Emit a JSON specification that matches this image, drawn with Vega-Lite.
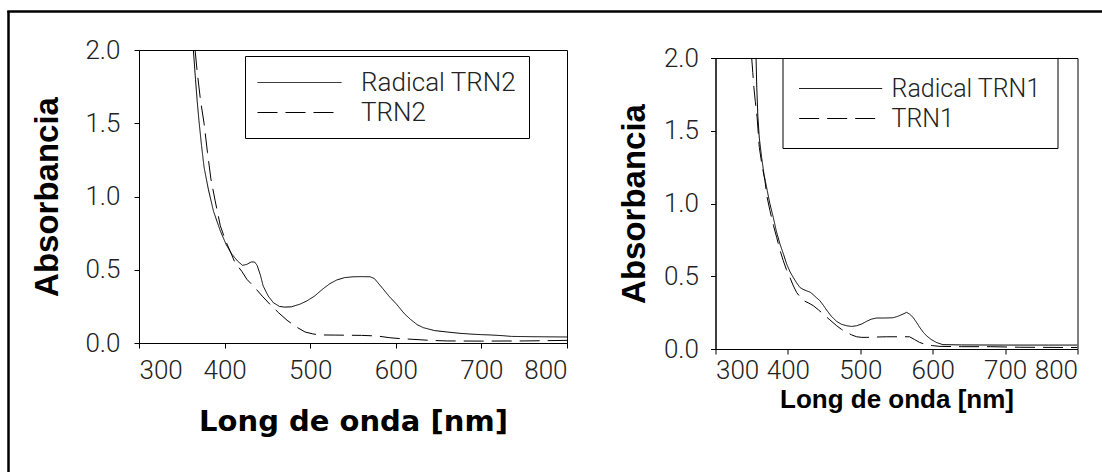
{
  "$schema": "https://vega.github.io/schema/vega-lite/v6.json",
  "background": "white",
  "padding": {"left": 5, "top": 8, "right": 0, "bottom": 0},
  "config": {
    "view": {"stroke": "black", "strokeWidth": 1},
    "axis": {"domainColor": "black", "tickColor": "black", "grid": false, "labelFont": "Roboto", "labelFontWeight": 300, "labelFontSize": 26, "labelColor": "#222", "tickSize": 5, "titleColor": "black"},
    "legend": {"title": null, "orient": "none", "strokeColor": "black", "fillColor": "white", "symbolType": "M -1 0 L 5 0", "symbolStrokeWidth": 1, "symbolStrokeColor": "black", "labelFont": "Roboto", "labelFontWeight": 300, "labelColor": "#222"}
  },
  "resolve": {"scale": {"strokeDash": "independent"}, "legend": {"strokeDash": "independent"}},
  "datasets": {
    "trn2": [
      {"wl": 363.5, "abs": 2.0, "serie": "Radical TRN2"}, {"wl": 366, "abs": 1.8, "serie": "Radical TRN2"}, {"wl": 368, "abs": 1.65, "serie": "Radical TRN2"}, {"wl": 370, "abs": 1.52, "serie": "Radical TRN2"}, {"wl": 373, "abs": 1.35, "serie": "Radical TRN2"}, {"wl": 376, "abs": 1.2, "serie": "Radical TRN2"}, {"wl": 381, "abs": 1.05, "serie": "Radical TRN2"}, {"wl": 387, "abs": 0.9, "serie": "Radical TRN2"}, {"wl": 395, "abs": 0.765, "serie": "Radical TRN2"}, {"wl": 402, "abs": 0.67, "serie": "Radical TRN2"}, {"wl": 408, "abs": 0.61, "serie": "Radical TRN2"}, {"wl": 415, "abs": 0.56, "serie": "Radical TRN2"}, {"wl": 421, "abs": 0.53, "serie": "Radical TRN2"}, {"wl": 426, "abs": 0.537, "serie": "Radical TRN2"}, {"wl": 431, "abs": 0.553, "serie": "Radical TRN2"}, {"wl": 435, "abs": 0.553, "serie": "Radical TRN2"}, {"wl": 438, "abs": 0.53, "serie": "Radical TRN2"}, {"wl": 442, "abs": 0.46, "serie": "Radical TRN2"}, {"wl": 445, "abs": 0.39, "serie": "Radical TRN2"}, {"wl": 451, "abs": 0.32, "serie": "Radical TRN2"}, {"wl": 457, "abs": 0.275, "serie": "Radical TRN2"}, {"wl": 464, "abs": 0.25, "serie": "Radical TRN2"}, {"wl": 470, "abs": 0.245, "serie": "Radical TRN2"}, {"wl": 478, "abs": 0.247, "serie": "Radical TRN2"}, {"wl": 488, "abs": 0.265, "serie": "Radical TRN2"}, {"wl": 496, "abs": 0.287, "serie": "Radical TRN2"}, {"wl": 505, "abs": 0.32, "serie": "Radical TRN2"}, {"wl": 515, "abs": 0.37, "serie": "Radical TRN2"}, {"wl": 523, "abs": 0.405, "serie": "Radical TRN2"}, {"wl": 531, "abs": 0.43, "serie": "Radical TRN2"}, {"wl": 540, "abs": 0.446, "serie": "Radical TRN2"}, {"wl": 550, "abs": 0.452, "serie": "Radical TRN2"}, {"wl": 560, "abs": 0.453, "serie": "Radical TRN2"}, {"wl": 570, "abs": 0.452, "serie": "Radical TRN2"}, {"wl": 575, "abs": 0.44, "serie": "Radical TRN2"}, {"wl": 585, "abs": 0.37, "serie": "Radical TRN2"}, {"wl": 592, "abs": 0.32, "serie": "Radical TRN2"}, {"wl": 601, "abs": 0.264, "serie": "Radical TRN2"}, {"wl": 610, "abs": 0.2, "serie": "Radical TRN2"}, {"wl": 617, "abs": 0.162, "serie": "Radical TRN2"}, {"wl": 625, "abs": 0.125, "serie": "Radical TRN2"}, {"wl": 632, "abs": 0.105, "serie": "Radical TRN2"}, {"wl": 645, "abs": 0.085, "serie": "Radical TRN2"}, {"wl": 660, "abs": 0.075, "serie": "Radical TRN2"}, {"wl": 675, "abs": 0.066, "serie": "Radical TRN2"}, {"wl": 690, "abs": 0.06, "serie": "Radical TRN2"}, {"wl": 700, "abs": 0.057, "serie": "Radical TRN2"}, {"wl": 710, "abs": 0.055, "serie": "Radical TRN2"}, {"wl": 725, "abs": 0.05, "serie": "Radical TRN2"}, {"wl": 735, "abs": 0.045, "serie": "Radical TRN2"}, {"wl": 760, "abs": 0.043, "serie": "Radical TRN2"}, {"wl": 780, "abs": 0.042, "serie": "Radical TRN2"}, {"wl": 800, "abs": 0.041, "serie": "Radical TRN2"},
      {"wl": 365.5, "abs": 2.0, "serie": "TRN2"}, {"wl": 368, "abs": 1.85, "serie": "TRN2"}, {"wl": 372, "abs": 1.65, "serie": "TRN2"}, {"wl": 376, "abs": 1.5, "serie": "TRN2"}, {"wl": 380, "abs": 1.3, "serie": "TRN2"}, {"wl": 384, "abs": 1.12, "serie": "TRN2"}, {"wl": 389, "abs": 0.97, "serie": "TRN2"}, {"wl": 395, "abs": 0.8, "serie": "TRN2"}, {"wl": 401, "abs": 0.7, "serie": "TRN2"}, {"wl": 407, "abs": 0.62, "serie": "TRN2"}, {"wl": 412, "abs": 0.55, "serie": "TRN2"}, {"wl": 420, "abs": 0.49, "serie": "TRN2"}, {"wl": 426, "abs": 0.435, "serie": "TRN2"}, {"wl": 435, "abs": 0.38, "serie": "TRN2"}, {"wl": 444, "abs": 0.32, "serie": "TRN2"}, {"wl": 453, "abs": 0.264, "serie": "TRN2"}, {"wl": 463, "abs": 0.207, "serie": "TRN2"}, {"wl": 473, "abs": 0.155, "serie": "TRN2"}, {"wl": 484, "abs": 0.109, "serie": "TRN2"}, {"wl": 494, "abs": 0.075, "serie": "TRN2"}, {"wl": 503, "abs": 0.062, "serie": "TRN2"}, {"wl": 512, "abs": 0.055, "serie": "TRN2"}, {"wl": 530, "abs": 0.054, "serie": "TRN2"}, {"wl": 560, "abs": 0.052, "serie": "TRN2"}, {"wl": 578, "abs": 0.048, "serie": "TRN2"}, {"wl": 593, "abs": 0.036, "serie": "TRN2"}, {"wl": 605, "abs": 0.03, "serie": "TRN2"}, {"wl": 620, "abs": 0.025, "serie": "TRN2"}, {"wl": 640, "abs": 0.018, "serie": "TRN2"}, {"wl": 660, "abs": 0.014, "serie": "TRN2"}, {"wl": 700, "abs": 0.013, "serie": "TRN2"}, {"wl": 750, "abs": 0.014, "serie": "TRN2"}, {"wl": 800, "abs": 0.018, "serie": "TRN2"}
    ],
    "trn1": [
      {"wl": 356, "abs": 2.0, "serie": "Radical TRN1"}, {"wl": 357, "abs": 1.8, "serie": "Radical TRN1"}, {"wl": 358.5, "abs": 1.6, "serie": "Radical TRN1"}, {"wl": 360.5, "abs": 1.45, "serie": "Radical TRN1"}, {"wl": 363.7, "abs": 1.317, "serie": "Radical TRN1"}, {"wl": 367, "abs": 1.2, "serie": "Radical TRN1"}, {"wl": 371.5, "abs": 1.088, "serie": "Radical TRN1"}, {"wl": 375, "abs": 1.0, "serie": "Radical TRN1"}, {"wl": 379.8, "abs": 0.905, "serie": "Radical TRN1"}, {"wl": 384, "abs": 0.81, "serie": "Radical TRN1"}, {"wl": 389, "abs": 0.722, "serie": "Radical TRN1"}, {"wl": 394, "abs": 0.65, "serie": "Radical TRN1"}, {"wl": 398.3, "abs": 0.584, "serie": "Radical TRN1"}, {"wl": 403, "abs": 0.53, "serie": "Radical TRN1"}, {"wl": 407.4, "abs": 0.492, "serie": "Radical TRN1"}, {"wl": 412, "abs": 0.455, "serie": "Radical TRN1"}, {"wl": 416.6, "abs": 0.423, "serie": "Radical TRN1"}, {"wl": 421, "abs": 0.41, "serie": "Radical TRN1"}, {"wl": 425.8, "abs": 0.4, "serie": "Radical TRN1"}, {"wl": 431, "abs": 0.39, "serie": "Radical TRN1"}, {"wl": 435, "abs": 0.373, "serie": "Radical TRN1"}, {"wl": 440, "abs": 0.35, "serie": "Radical TRN1"}, {"wl": 444.2, "abs": 0.332, "serie": "Radical TRN1"}, {"wl": 449, "abs": 0.3, "serie": "Radical TRN1"}, {"wl": 453.4, "abs": 0.268, "serie": "Radical TRN1"}, {"wl": 460, "abs": 0.225, "serie": "Radical TRN1"}, {"wl": 467.3, "abs": 0.19, "serie": "Radical TRN1"}, {"wl": 474, "abs": 0.17, "serie": "Radical TRN1"}, {"wl": 481, "abs": 0.16, "serie": "Radical TRN1"}, {"wl": 488, "abs": 0.155, "serie": "Radical TRN1"}, {"wl": 495, "abs": 0.16, "serie": "Radical TRN1"}, {"wl": 502, "abs": 0.172, "serie": "Radical TRN1"}, {"wl": 508.7, "abs": 0.19, "serie": "Radical TRN1"}, {"wl": 515, "abs": 0.205, "serie": "Radical TRN1"}, {"wl": 522.5, "abs": 0.213, "serie": "Radical TRN1"}, {"wl": 535, "abs": 0.213, "serie": "Radical TRN1"}, {"wl": 545.4, "abs": 0.215, "serie": "Radical TRN1"}, {"wl": 552, "abs": 0.225, "serie": "Radical TRN1"}, {"wl": 559, "abs": 0.24, "serie": "Radical TRN1"}, {"wl": 564, "abs": 0.252, "serie": "Radical TRN1"}, {"wl": 568, "abs": 0.24, "serie": "Radical TRN1"}, {"wl": 573, "abs": 0.217, "serie": "Radical TRN1"}, {"wl": 578, "abs": 0.18, "serie": "Radical TRN1"}, {"wl": 582, "abs": 0.149, "serie": "Radical TRN1"}, {"wl": 587, "abs": 0.115, "serie": "Radical TRN1"}, {"wl": 591.4, "abs": 0.091, "serie": "Radical TRN1"}, {"wl": 598, "abs": 0.065, "serie": "Radical TRN1"}, {"wl": 605, "abs": 0.045, "serie": "Radical TRN1"}, {"wl": 614, "abs": 0.03, "serie": "Radical TRN1"}, {"wl": 640, "abs": 0.028, "serie": "Radical TRN1"}, {"wl": 700, "abs": 0.027, "serie": "Radical TRN1"}, {"wl": 760, "abs": 0.027, "serie": "Radical TRN1"}, {"wl": 800, "abs": 0.027, "serie": "Radical TRN1"},
      {"wl": 350, "abs": 2.0, "serie": "TRN1"}, {"wl": 351.5, "abs": 1.9, "serie": "TRN1"}, {"wl": 353, "abs": 1.8, "serie": "TRN1"}, {"wl": 355, "abs": 1.7, "serie": "TRN1"}, {"wl": 357.5, "abs": 1.59, "serie": "TRN1"}, {"wl": 360.5, "abs": 1.386, "serie": "TRN1"}, {"wl": 364, "abs": 1.27, "serie": "TRN1"}, {"wl": 368.3, "abs": 1.157, "serie": "TRN1"}, {"wl": 371, "abs": 1.05, "serie": "TRN1"}, {"wl": 375.2, "abs": 0.951, "serie": "TRN1"}, {"wl": 380, "abs": 0.85, "serie": "TRN1"}, {"wl": 384.5, "abs": 0.767, "serie": "TRN1"}, {"wl": 389, "abs": 0.68, "serie": "TRN1"}, {"wl": 393.6, "abs": 0.607, "serie": "TRN1"}, {"wl": 398, "abs": 0.545, "serie": "TRN1"}, {"wl": 402.8, "abs": 0.492, "serie": "TRN1"}, {"wl": 407, "abs": 0.44, "serie": "TRN1"}, {"wl": 412, "abs": 0.389, "serie": "TRN1"}, {"wl": 418, "abs": 0.35, "serie": "TRN1"}, {"wl": 423.5, "abs": 0.328, "serie": "TRN1"}, {"wl": 429, "abs": 0.315, "serie": "TRN1"}, {"wl": 435, "abs": 0.298, "serie": "TRN1"}, {"wl": 442, "abs": 0.27, "serie": "TRN1"}, {"wl": 448.8, "abs": 0.24, "serie": "TRN1"}, {"wl": 458, "abs": 0.2, "serie": "TRN1"}, {"wl": 467.3, "abs": 0.16, "serie": "TRN1"}, {"wl": 474, "abs": 0.135, "serie": "TRN1"}, {"wl": 481, "abs": 0.114, "serie": "TRN1"}, {"wl": 488, "abs": 0.097, "serie": "TRN1"}, {"wl": 495, "abs": 0.084, "serie": "TRN1"}, {"wl": 502, "abs": 0.08, "serie": "TRN1"}, {"wl": 509, "abs": 0.08, "serie": "TRN1"}, {"wl": 520, "abs": 0.082, "serie": "TRN1"}, {"wl": 536, "abs": 0.084, "serie": "TRN1"}, {"wl": 555, "abs": 0.084, "serie": "TRN1"}, {"wl": 568, "abs": 0.084, "serie": "TRN1"}, {"wl": 575, "abs": 0.065, "serie": "TRN1"}, {"wl": 582, "abs": 0.045, "serie": "TRN1"}, {"wl": 591, "abs": 0.03, "serie": "TRN1"}, {"wl": 600, "abs": 0.023, "serie": "TRN1"}, {"wl": 610, "abs": 0.018, "serie": "TRN1"}, {"wl": 640, "abs": 0.016, "serie": "TRN1"}, {"wl": 680, "abs": 0.016, "serie": "TRN1"}, {"wl": 720, "abs": 0.012, "serie": "TRN1"}, {"wl": 800, "abs": 0.01, "serie": "TRN1"}
    ]
  },
  "bounds": "flush",
  "spacing": 0,
  "vconcat": [
    {
      "width": 1097,
      "height": 1,
      "data": {"name": "trn1"},
      "mark": {"type": "point", "opacity": 0},
      "view": {"stroke": "black", "strokeWidth": 1.5}
    },
    {
      "bounds": "flush",
      "spacing": 130,
      "resolve": {"scale": {"strokeDash": "independent"}, "legend": {"strokeDash": "independent"}},
      "hconcat": [
        {
          "width": 1,
          "height": 463,
          "data": {"name": "trn1"},
          "mark": {"type": "point", "opacity": 0},
          "view": {"stroke": "black", "strokeWidth": 1.5}
        },
        {
          "bounds": "flush",
          "spacing": 0,
          "resolve": {"scale": {"strokeDash": "independent"}, "legend": {"strokeDash": "independent"}},
          "vconcat": [
            {
              "width": 10,
              "height": 38,
              "data": {"name": "trn1"},
              "mark": {"type": "point", "opacity": 0},
              "view": {"stroke": null}
            },
            {
              "bounds": "flush",
              "spacing": 148.5,
              "resolve": {"scale": {"strokeDash": "independent"}, "legend": {"strokeDash": "independent"}},
              "hconcat": [
                {
                  "width": 428,
                  "height": 293,
                  "data": {"name": "trn2"},
                  "mark": {"type": "line", "color": "black", "strokeWidth": 1, "clip": true},
                  "encoding": {
                    "x": {"field": "wl", "type": "quantitative", "scale": {"domain": [300, 800], "nice": false, "zero": false},
                          "axis": {"values": [300, 400, 500, 600, 700, 800], "title": "Long de onda [nm]", "titleFont": "DejaVu Sans", "titleFontWeight": "bold", "titleFontSize": 29, "labelPadding": 9, "titlePadding": 24}},
                    "y": {"field": "abs", "type": "quantitative", "scale": {"domain": [0, 2], "nice": false},
                          "axis": {"values": [0, 0.5, 1, 1.5, 2], "format": ".1f", "title": "Absorbancia", "titleFont": "Liberation Sans", "titleFontWeight": "bold", "titleFontSize": 33, "labelPadding": 14, "titlePadding": 20}},
                    "strokeDash": {"field": "serie", "type": "nominal",
                          "scale": {"domain": ["Radical TRN2", "TRN2"], "range": [[1, 0], [20, 8]]},
                          "legend": {"legendX": 106, "legendY": 6, "padding": 12, "symbolSize": 784, "labelFontSize": 26, "labelOffset": 75, "rowPadding": 2}}
                  }
                },
                {
                  "vconcat": [
                    {
                      "width": 362,
                      "height": 8,
                      "data": {"name": "trn1"},
                      "mark": {"type": "point", "opacity": 0},
                      "view": {"stroke": null}
                    },
                    {
                      "width": 362,
                      "height": 291,
                      "data": {"name": "trn1"},
                      "mark": {"type": "line", "color": "black", "strokeWidth": 1, "clip": true},
                      "encoding": {
                        "x": {"field": "wl", "type": "quantitative", "scale": {"domain": [300, 800], "nice": false, "zero": false},
                              "axis": {"values": [300, 400, 500, 600, 700, 800], "title": "Long de onda [nm]", "titleFont": "Liberation Sans", "titleFontWeight": "bold", "titleFontSize": 26, "labelPadding": 3, "titlePadding": 3}},
                        "y": {"field": "abs", "type": "quantitative", "scale": {"domain": [0, 2], "nice": false},
                              "axis": {"values": [0, 0.5, 1, 1.5, 2], "format": ".1f", "title": "Absorbancia", "titleFont": "Liberation Sans", "titleFontWeight": "bold", "titleFontSize": 33, "labelPadding": 12, "titlePadding": 12}},
                        "strokeDash": {"field": "serie", "type": "nominal",
                              "scale": {"domain": ["Radical TRN1", "TRN1"], "range": [[1, 0], [20, 8]]},
                              "legend": {"legendX": 67, "legendY": 8, "padding": 16, "symbolSize": 765, "labelFontSize": 25, "labelOffset": 64, "rowPadding": 2}}
                      }
                    }
                  ],
                  "spacing": 0,
                  "bounds": "flush"
                }
              ]
            }
          ]
        }
      ]
    }
  ]
}
